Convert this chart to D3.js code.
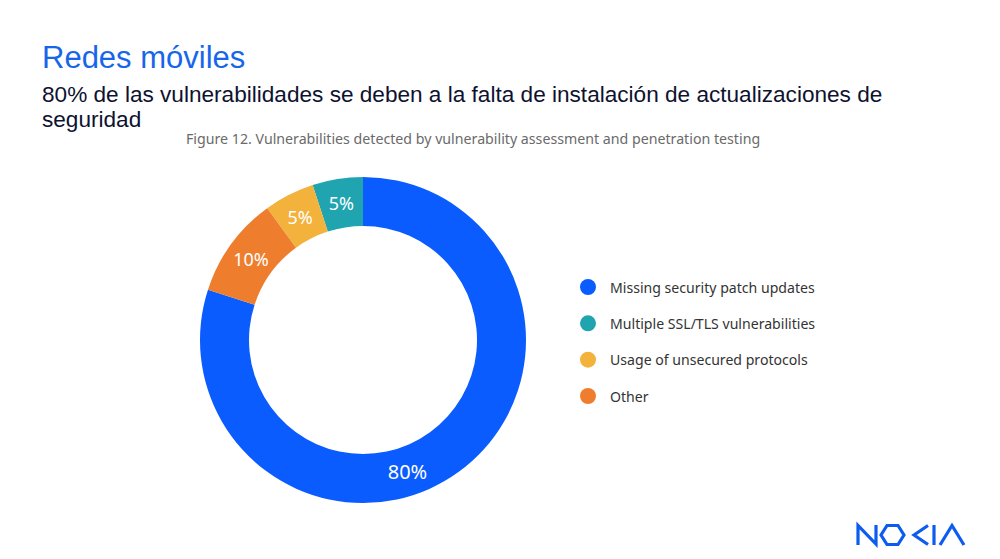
<!DOCTYPE html>
<html>
<head>
<meta charset="utf-8">
<script src="https://cdn.jsdelivr.net/npm/d3@7"></script>
<style>
  body { margin: 0; background: #fff; }
  svg { display: block; }
</style>
</head>
<body>
<div id="chart"></div>
<script>
// data
var categories = ["Missing security patch updates", "Multiple SSL/TLS vulnerabilities", "Usage of unsecured protocols", "Other"];
var values = [80, 5, 5, 10];
var sliceOrder = ["Missing security patch updates", "Other", "Usage of unsecured protocols", "Multiple SSL/TLS vulnerabilities"];
var colours = ["#0a5cfe", "#1fa4b0", "#f2b23c", "#ee7e2e"];

var title = "Redes móviles";
var subtitle = ["80% de las vulnerabilidades se deben a la falta de instalación de actualizaciones de", "seguridad"];
var caption = "Figure 12. Vulnerabilities detected by vulnerability assessment and penetration testing";

var width = 1000, height = 559;

var svg = d3.select("#chart")
    .append("svg")
    .attr("width", width)
    .attr("height", height);

svg.append("text")
    .attr("x", 42)
    .attr("y", 68)
    .style("font-family", "'Liberation Sans', Arial, sans-serif")
    .style("font-size", "31px")
    .style("fill", "#1766ea")
    .text(title);

svg.selectAll(".sub")
    .data(subtitle)
    .enter().append("text")
    .attr("class", "sub")
    .attr("x", 42)
    .attr("y", (d, i) => 102 + i * 25)
    .style("font-family", "'Liberation Sans', Arial, sans-serif")
    .style("font-size", "22.6px")
    .style("fill", "#0e1230")
    .text(d => d);

svg.append("text")
    .attr("x", 186)
    .attr("y", 144)
    .style("font-family", "'Noto Sans', sans-serif")
    .style("font-size", "14.2px")
    .style("fill", "#6a6a6a")
    .text(caption);

var data = categories.map((c, i) => ({ name: c, value: values[i] }));

var colourScale = d3.scaleOrdinal()
    .domain(categories)
    .range(colours);

var cx = 363, cy = 340;
var outerR = 163, innerR = 114;

var pie = d3.pie()
    .value(d => d.value)
    .sort((a, b) => sliceOrder.indexOf(a.name) - sliceOrder.indexOf(b.name));

var arc = d3.arc()
    .innerRadius(innerR)
    .outerRadius(outerR);

var donut = svg.append("g")
    .attr("transform", "translate(" + cx + "," + cy + ")");

var arcs = pie(data);

donut.selectAll("path")
    .data(arcs)
    .enter().append("path")
    .attr("d", arc)
    .style("fill", d => colourScale(d.data.name));

// big slice label sits past the middle of its arc, small ones on the centroid
function labelPos(d) {
    var span = d.endAngle - d.startAngle;
    if (span < Math.PI) return arc.centroid(d);
    var a = d.startAngle + span * 0.56;
    var r = (innerR + outerR) / 2;
    return [r * Math.sin(a), -r * Math.cos(a)];
}

donut.selectAll(".lbl")
    .data(arcs)
    .enter().append("text")
    .attr("class", "lbl")
    .attr("x", d => labelPos(d)[0])
    .attr("y", d => labelPos(d)[1])
    .attr("text-anchor", "middle")
    .attr("dominant-baseline", "central")
    .style("font-family", "'Noto Sans', sans-serif")
    .style("font-size", d => d.value > 50 ? "20px" : "18px")
    .style("fill", "#fff")
    .text(d => d.value + "%");

// legend
var legendY = d3.scalePoint()
    .domain(categories)
    .range([287, 396]);

var legend = svg.selectAll(".legend")
    .data(categories)
    .enter().append("g")
    .attr("class", "legend")
    .attr("transform", d => "translate(588," + legendY(d) + ")");

legend.append("circle")
    .attr("r", 8)
    .style("fill", d => colourScale(d));

legend.append("text")
    .attr("x", 22)
    .attr("dominant-baseline", "central")
    .style("font-family", "'Noto Sans', sans-serif")
    .style("font-size", "14.1px")
    .style("fill", "#333")
    .text(d => d);

// logo, drawn with strokes
var logo = svg.append("g")
    .style("fill", "none")
    .style("stroke", "#0d5cf0")
    .style("stroke-width", 3.2)
    .style("stroke-linejoin", "miter");

logo.append("path").attr("d", "M858,545 V525.5 L876,544 V525");
logo.append("path").attr("d", "M881,535 L887,525.5 H898 L904,535 L898,544.5 H887 Z");
logo.append("path").attr("d", "M928,525.5 L914,535 L928,544.5");
logo.append("path").attr("d", "M934,525 V545");
logo.append("path").attr("d", "M940,545 L952,525.5 L964,545");
</script>
</body>
</html>
